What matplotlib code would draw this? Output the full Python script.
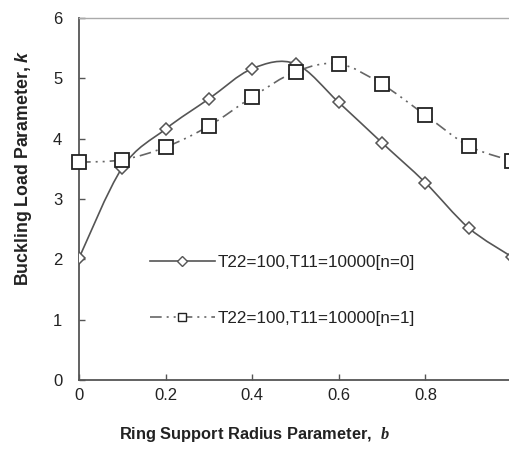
import numpy as np
import matplotlib
matplotlib.use("Agg")
import matplotlib.pyplot as plt
from matplotlib.path import Path
from matplotlib.patches import PathPatch
from matplotlib.lines import Line2D

b_values = [0.0, 0.1, 0.2, 0.3, 0.4, 0.5, 0.6, 0.7, 0.8, 0.9, 1.0]
k_n0 = [2.02, 3.52, 4.16, 4.66, 5.16, 5.24, 4.60, 3.93, 3.27, 2.52, 2.04]
k_n1 = [3.61, 3.65, 3.86, 4.21, 4.69, 5.11, 5.24, 4.90, 4.39, 3.88, 3.63]
label_n0 = "T22=100,T11=10000[n=0]"
label_n1 = "T22=100,T11=10000[n=1]"
x_ticks = [0, 0.2, 0.4, 0.6, 0.8, 1]
x_ticklabels = ["0", "0.2", "0.4", "0.6", "0.8", "1"]
y_ticks = [0, 1, 2, 3, 4, 5, 6]

plt.rcParams['font.family'] = ['Liberation Sans', 'DejaVu Sans']
plt.rcParams['mathtext.fontset'] = 'custom'
plt.rcParams['mathtext.bfit'] = 'Liberation Serif:italic:bold'
plt.rcParams['mathtext.sf'] = 'Liberation Sans:italic:bold'


def smooth_path(xs, ys):
    # excel-like smoothed line: bezier segments with catmull-rom control points
    pts = np.column_stack([xs, ys])
    n = len(pts)
    verts = [pts[0]]
    codes = [Path.MOVETO]
    for i in range(n - 1):
        p_prev = pts[i - 1] if i > 0 else pts[i]
        p_next2 = pts[i + 2] if i + 2 < n else pts[i + 1]
        c1 = pts[i] + (pts[i + 1] - p_prev) / 6.0
        c2 = pts[i + 1] - (p_next2 - pts[i]) / 6.0
        verts += [c1, c2, pts[i + 1]]
        codes += [Path.CURVE4] * 3
    return Path(verts, codes)


fig = plt.figure(figsize=(5.1, 4.5), dpi=100)
ax = fig.add_axes([79 / 510, 70 / 450, 433 / 510, 362 / 450])

col0 = "#555555"
col1 = "#666666"
dash1 = (0, (7, 3, 1.2, 3, 1.2, 3))

ax.add_patch(PathPatch(smooth_path(b_values, k_n0), fill=False, edgecolor=col0, lw=1.2, zorder=2))
ax.add_patch(PathPatch(smooth_path(b_values, k_n1), fill=False, edgecolor=col1, lw=1.2,
                       linestyle=dash1, zorder=2))
ax.plot(b_values, k_n0, linestyle='none', marker='D', ms=6.3, mfc='white', mec=col0, mew=1.1, zorder=3)
ax.plot(b_values, k_n1, linestyle='none', marker='s', ms=9.5, mfc='white', mec='#222222', mew=1.3,
        zorder=4, clip_on=False)

handles = [
    Line2D([], [], color=col0, lw=1.2, marker='D', ms=5, mfc='white', mec=col0, mew=1),
    Line2D([], [], color=col1, lw=1.2, linestyle=dash1, marker='s', ms=6, mfc='white', mec='#222222', mew=1),
]
ax.legend(handles, [label_n0, label_n1], loc='center left', bbox_to_anchor=(0.164, 0.246),
          frameon=False, fontsize=12.3, handlelength=3.8, handletextpad=0.15, labelspacing=2.4,
          borderpad=0, borderaxespad=0, labelcolor='#222222')

ax.set_xlim(0, 1)
ax.set_ylim(0, 6)
ax.set_xticks(x_ticks)
ax.set_xticklabels(x_ticklabels)
ax.set_yticks(y_ticks)
ax.tick_params(direction='in', length=4, width=1, colors='#555555', labelcolor='#222222',
               labelsize=12, pad=6)
ax.tick_params(axis='y', pad=12)

for side in ['left', 'bottom']:
    ax.spines[side].set_color('#555555')
    ax.spines[side].set_linewidth(1.3)
for side in ['top', 'right']:
    ax.spines[side].set_color('#aaaaaa')
    ax.spines[side].set_linewidth(1.0)

ax.set_xlabel("Ring Support Radius Parameter,  $\\mathbfit{b}$", fontsize=11.8, fontweight='bold',
              color='#222222')
ax.set_ylabel("Buckling Load Parameter, $\\mathsf{k}$", fontsize=12.8, fontweight='bold',
              color='#222222')
# labels in the original sit centred on the figure, not the axes
ax.xaxis.set_label_coords(0.406, -0.125)
ax.yaxis.set_label_coords(-0.105, 0.586)

fig.savefig("out.png", dpi=100)
